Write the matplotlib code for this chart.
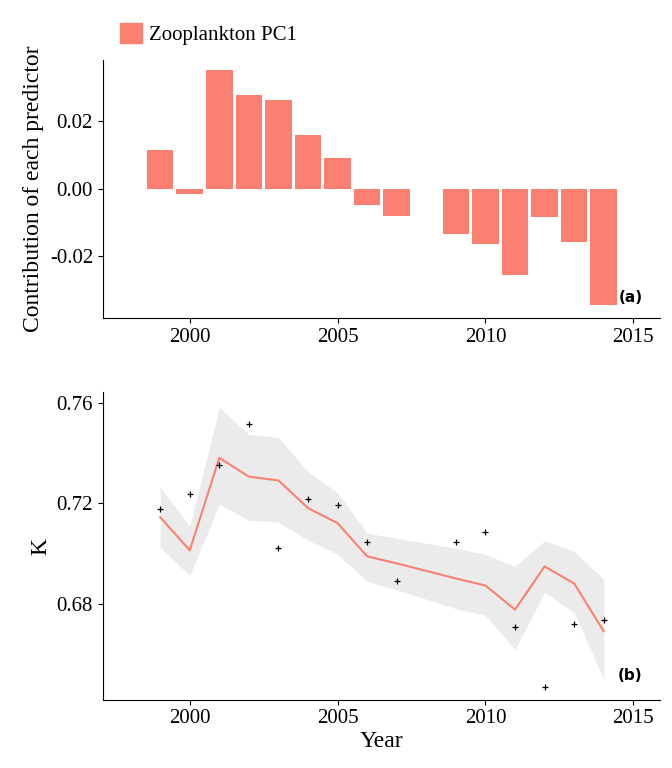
import numpy as np
import matplotlib.pyplot as plt
from matplotlib.patches import Patch

plt.rcParams['font.family'] = ['Liberation Serif', 'DejaVu Serif']

years = [1999, 2000, 2001, 2002, 2003, 2004, 2005, 2006, 2007, 2009, 2010, 2011, 2012, 2013, 2014]
contrib = [0.0116, -0.0015, 0.0353, 0.0279, 0.0264, 0.016, 0.0092, -0.0047, -0.008,
           -0.0133, -0.0163, -0.0255, -0.0083, -0.0157, -0.0344]
k_obs = [0.7176, 0.7236, 0.735, 0.7516, 0.702, 0.7216, 0.7192, 0.7044, 0.6888,
         0.7044, 0.7084, 0.6708, 0.647, 0.672, 0.6736]
k_fit = [0.7144, 0.7012, 0.738, 0.7305, 0.729, 0.718, 0.712, 0.6988, 0.696,
         0.690, 0.6872, 0.6776, 0.6948, 0.688, 0.669]
k_hi = [0.7262, 0.7108, 0.758, 0.7473, 0.746, 0.7325, 0.724, 0.708, 0.706,
        0.702, 0.6996, 0.6948, 0.705, 0.7008, 0.6896]
k_lo = [0.7024, 0.6912, 0.7195, 0.7132, 0.7124, 0.7052, 0.6996, 0.6888, 0.6855,
        0.678, 0.6753, 0.6617, 0.6844, 0.6765, 0.6498]

col = '#FA8072'
fig = plt.figure(figsize=(6.72, 7.68), dpi=100)
ax1 = fig.add_axes([0.153, 0.586, 0.829, 0.336])
ax2 = fig.add_axes([0.153, 0.089, 0.829, 0.400])

ax1.bar(years, contrib, width=0.9, color=col)
ax1.set_xlim(1997.06, 2015.9)
ax1.set_ylim(-0.0382, 0.0382)
ax1.set_yticks([-0.02, 0.0, 0.02])
ax1.set_yticklabels(['-0.02', '0.00', '0.02'])
ax1.set_ylabel('Contribution of each predictor', fontsize=17)
ax1.text(2014.9, -0.0335, '(a)', fontsize=11, fontweight='bold', family='DejaVu Sans', ha='center')
fig.legend(handles=[Patch(color=col, label='Zooplankton PC1')], loc='upper left',
           bbox_to_anchor=(0.15, 0.995), frameon=False, fontsize=15,
           handlelength=1.1, handleheight=1.1, handletextpad=0.3)

ax2.fill_between(years, k_lo, k_hi, color='#EBEBEB', linewidth=0)
ax2.plot(years, k_fit, color=col, linewidth=1.5)
ax2.scatter(years, k_obs, marker='+', color='black', s=25, linewidths=0.9, zorder=3)
ax2.set_xlim(1997.06, 2015.9)
ax2.set_ylim(0.6418, 0.764)
ax2.set_yticks([0.68, 0.72, 0.76])
ax2.set_ylabel('K', fontsize=17)
ax2.set_xlabel('Year', fontsize=17, labelpad=2)
ax2.text(2014.9, 0.6495, '(b)', fontsize=11, fontweight='bold', family='DejaVu Sans', ha='center')

for ax in (ax1, ax2):
    ax.spines['top'].set_visible(False)
    ax.spines['right'].set_visible(False)
    ax.set_xticks([2000, 2005, 2010, 2015])
    ax.tick_params(labelsize=15)

fig.savefig('out.png', dpi=100)
